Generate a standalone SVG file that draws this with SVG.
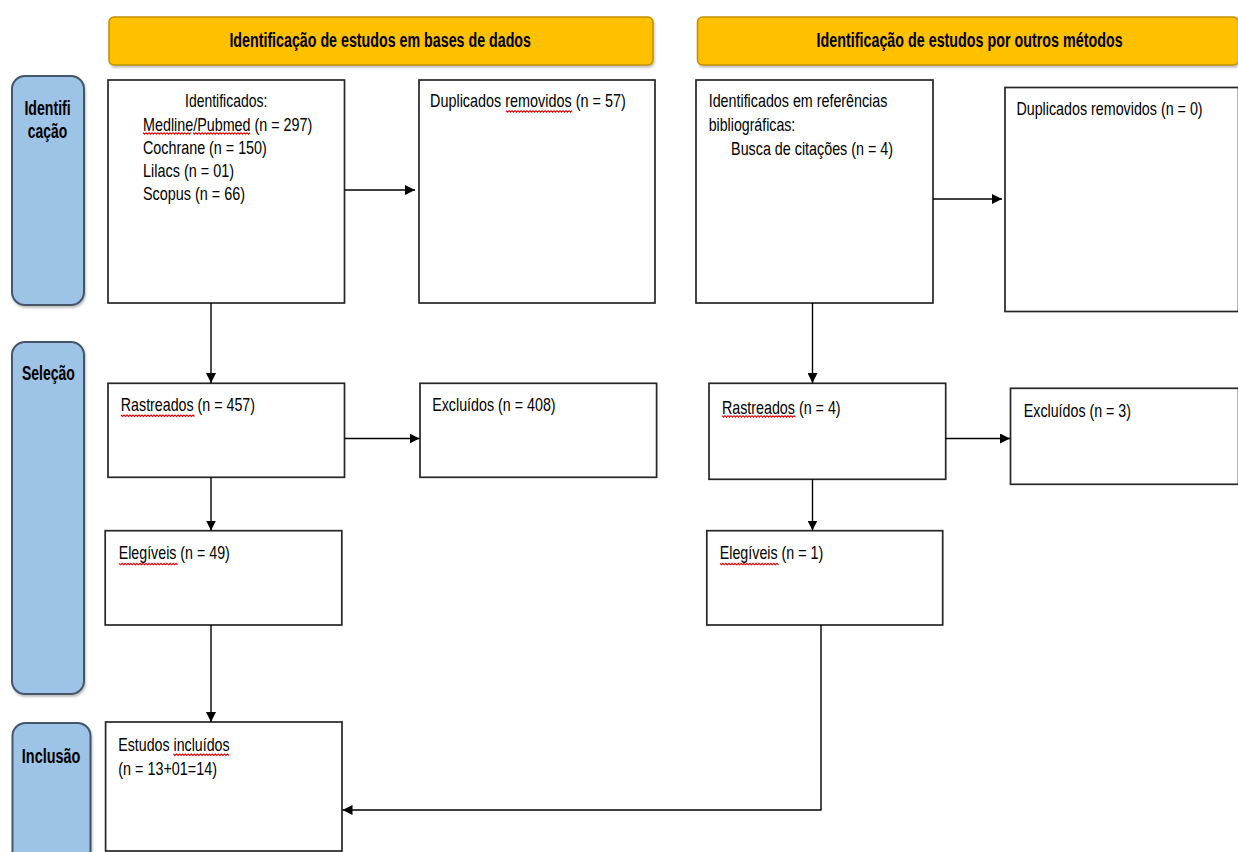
<svg xmlns="http://www.w3.org/2000/svg" width="1238" height="852" viewBox="0 0 1238 852">
<defs>
<style>
.hdr{fill:#FFC000;stroke:#BF9000;stroke-width:1.5}
.bar{fill:#9DC3E6;stroke:#44546A;stroke-width:2}
.box{fill:#FFFFFF;stroke:#262626;stroke-width:1.7}
.t{font-family:"Liberation Sans Narrow","Liberation Sans",Arial,sans-serif;font-size:18.5px;fill:#000}
.hb{font-family:"Liberation Sans Narrow","Liberation Sans",Arial,sans-serif;font-size:20px;font-weight:bold;fill:#000}
.bb{font-family:"Liberation Sans Narrow","Liberation Sans",Arial,sans-serif;font-size:21px;font-weight:bold;fill:#000}
.con{fill:none;stroke:#000;stroke-width:1.4;marker-end:url(#ah)}
.sq{fill:none;stroke:#E00000;stroke-width:1.1}
</style>
<marker id="ah" markerUnits="userSpaceOnUse" markerWidth="11" markerHeight="10" refX="10" refY="5" orient="auto">
<path d="M0,0 L10,5 L0,10 z" fill="#000"/>
</marker>
<filter id="sh" x="-5%" y="-20%" width="110%" height="160%">
<feDropShadow dx="1" dy="2" stdDeviation="1.2" flood-color="#000" flood-opacity="0.25"/>
</filter>
</defs>
<rect width="1238" height="852" fill="#FFFFFF"/>

<g id="header-db">
<rect class="hdr" x="109" y="17" width="544" height="48" rx="5" filter="url(#sh)"/>
<text class="hb" x="229.4" y="47" textLength="301.6" lengthAdjust="spacingAndGlyphs">Identificação de estudos em bases de dados</text>
</g>
<g id="header-other">
<rect class="hdr" x="697.5" y="17" width="541" height="48" rx="5" filter="url(#sh)"/>
<text class="hb" x="816.6" y="47" textLength="306" lengthAdjust="spacingAndGlyphs">Identificação de estudos por outros métodos</text>
</g>

<g id="bar-identificacao">
<rect class="bar" x="12" y="76" width="72" height="229" rx="13" filter="url(#sh)"/>
<text class="bb" x="24.4" y="115" textLength="46.3" lengthAdjust="spacingAndGlyphs">Identifi</text>
<text class="bb" x="27.8" y="137.5" textLength="39.5" lengthAdjust="spacingAndGlyphs">cação</text>
</g>
<g id="bar-selecao">
<rect class="bar" x="12" y="342" width="72" height="352" rx="13" filter="url(#sh)"/>
<text class="bb" x="21.9" y="380" textLength="53" lengthAdjust="spacingAndGlyphs">Seleção</text>
</g>
<g id="bar-inclusao">
<rect class="bar" x="12.5" y="723" width="78" height="150" rx="13" filter="url(#sh)"/>
<text class="bb" x="21.8" y="762.7" textLength="58.6" lengthAdjust="spacingAndGlyphs">Inclusão</text>
</g>

<g id="box-identificados">
<rect class="box" x="108" y="80" width="236.5" height="223"/>
<text class="t" x="185" y="106.7" textLength="82.3" lengthAdjust="spacingAndGlyphs">Identificados:</text>
<text class="t" x="143" y="130.7" textLength="169.3" lengthAdjust="spacingAndGlyphs">Medline/Pubmed (n = 297)</text>
<text class="t" x="143" y="154" textLength="123.8" lengthAdjust="spacingAndGlyphs">Cochrane (n = 150)</text>
<text class="t" x="143" y="176.7" textLength="91" lengthAdjust="spacingAndGlyphs">Lilacs (n = 01)</text>
<text class="t" x="143" y="200" textLength="102" lengthAdjust="spacingAndGlyphs">Scopus (n = 66)</text>
<path class="sq" d="M143,132.7 l1.5,1.5 l1.5,-1.5 l1.5,1.5 l1.5,-1.5 l1.5,1.5 l1.5,-1.5 l1.5,1.5 l1.5,-1.5 l1.5,1.5 l1.5,-1.5 l1.5,1.5 l1.5,-1.5 l1.5,1.5 l1.5,-1.5 l1.5,1.5 l1.5,-1.5 l1.5,1.5 l1.5,-1.5 l1.5,1.5 l1.5,-1.5 l1.5,1.5 l1.5,-1.5 l1.5,1.5 l1.5,-1.5 l1.5,1.5 l1.5,-1.5 l1.5,1.5 l1.5,-1.5 l1.5,1.5 l1.5,-1.5 l1.5,1.5 l1.5,-1.5"/>
<path class="sq" d="M193,132.7 l1.5,1.5 l1.5,-1.5 l1.5,1.5 l1.5,-1.5 l1.5,1.5 l1.5,-1.5 l1.5,1.5 l1.5,-1.5 l1.5,1.5 l1.5,-1.5 l1.5,1.5 l1.5,-1.5 l1.5,1.5 l1.5,-1.5 l1.5,1.5 l1.5,-1.5 l1.5,1.5 l1.5,-1.5 l1.5,1.5 l1.5,-1.5 l1.5,1.5 l1.5,-1.5 l1.5,1.5 l1.5,-1.5 l1.5,1.5 l1.5,-1.5 l1.5,1.5 l1.5,-1.5 l1.5,1.5 l1.5,-1.5 l1.5,1.5 l1.5,-1.5 l1.5,1.5 l1.5,-1.5 l1.5,1.5 l1.5,-1.5 l1.5,1.5 l1.5,-1.5"/>
</g>

<g id="box-duplicados-db">
<rect class="box" x="419" y="80" width="236" height="223"/>
<text class="t" x="430" y="106.7" textLength="195.8" lengthAdjust="spacingAndGlyphs">Duplicados removidos (n = 57)</text>
<path class="sq" d="M506,110.7 l1.5,1.5 l1.5,-1.5 l1.5,1.5 l1.5,-1.5 l1.5,1.5 l1.5,-1.5 l1.5,1.5 l1.5,-1.5 l1.5,1.5 l1.5,-1.5 l1.5,1.5 l1.5,-1.5 l1.5,1.5 l1.5,-1.5 l1.5,1.5 l1.5,-1.5 l1.5,1.5 l1.5,-1.5 l1.5,1.5 l1.5,-1.5 l1.5,1.5 l1.5,-1.5 l1.5,1.5 l1.5,-1.5 l1.5,1.5 l1.5,-1.5 l1.5,1.5 l1.5,-1.5 l1.5,1.5 l1.5,-1.5 l1.5,1.5 l1.5,-1.5 l1.5,1.5 l1.5,-1.5 l1.5,1.5 l1.5,-1.5 l1.5,1.5 l1.5,-1.5 l1.5,1.5 l1.5,-1.5 l1.5,1.5 l1.5,-1.5 l1.5,1.5 l1.5,-1.5"/>
</g>

<g id="box-identificados-ref">
<rect class="box" x="696" y="80" width="237" height="223"/>
<text class="t" x="708.7" y="107" textLength="178.7" lengthAdjust="spacingAndGlyphs">Identificados em referências</text>
<text class="t" x="708.7" y="130.7" textLength="86.6" lengthAdjust="spacingAndGlyphs">bibliográficas:</text>
<text class="t" x="731.1" y="155" textLength="161.9" lengthAdjust="spacingAndGlyphs">Busca de citações (n = 4)</text>
</g>

<g id="box-duplicados-other">
<rect class="box" x="1005" y="87.5" width="233.5" height="224"/>
<text class="t" x="1016.4" y="115" textLength="186.2" lengthAdjust="spacingAndGlyphs">Duplicados removidos (n = 0)</text>
</g>

<g id="box-rastreados-db">
<rect class="box" x="108" y="383.3" width="236.5" height="94"/>
<text class="t" x="120.8" y="410.7" textLength="134.2" lengthAdjust="spacingAndGlyphs">Rastreados (n = 457)</text>
<path class="sq" d="M121,415 l1.5,1.5 l1.5,-1.5 l1.5,1.5 l1.5,-1.5 l1.5,1.5 l1.5,-1.5 l1.5,1.5 l1.5,-1.5 l1.5,1.5 l1.5,-1.5 l1.5,1.5 l1.5,-1.5 l1.5,1.5 l1.5,-1.5 l1.5,1.5 l1.5,-1.5 l1.5,1.5 l1.5,-1.5 l1.5,1.5 l1.5,-1.5 l1.5,1.5 l1.5,-1.5 l1.5,1.5 l1.5,-1.5 l1.5,1.5 l1.5,-1.5 l1.5,1.5 l1.5,-1.5 l1.5,1.5 l1.5,-1.5 l1.5,1.5 l1.5,-1.5 l1.5,1.5 l1.5,-1.5 l1.5,1.5 l1.5,-1.5 l1.5,1.5 l1.5,-1.5 l1.5,1.5 l1.5,-1.5 l1.5,1.5 l1.5,-1.5 l1.5,1.5 l1.5,-1.5 l1.5,1.5 l1.5,-1.5 l1.5,1.5 l1.5,-1.5 l1.5,1.5"/>
</g>

<g id="box-excluidos-db">
<rect class="box" x="420" y="383.3" width="236.6" height="94"/>
<text class="t" x="432.2" y="410.7" textLength="123.4" lengthAdjust="spacingAndGlyphs">Excluídos (n = 408)</text>
</g>

<g id="box-elegiveis-db">
<rect class="box" x="105.2" y="530.7" width="236.6" height="94.3"/>
<text class="t" x="118.7" y="559.3" textLength="111.1" lengthAdjust="spacingAndGlyphs">Elegíveis (n = 49)</text>
<path class="sq" d="M119,563.3 l1.5,1.5 l1.5,-1.5 l1.5,1.5 l1.5,-1.5 l1.5,1.5 l1.5,-1.5 l1.5,1.5 l1.5,-1.5 l1.5,1.5 l1.5,-1.5 l1.5,1.5 l1.5,-1.5 l1.5,1.5 l1.5,-1.5 l1.5,1.5 l1.5,-1.5 l1.5,1.5 l1.5,-1.5 l1.5,1.5 l1.5,-1.5 l1.5,1.5 l1.5,-1.5 l1.5,1.5 l1.5,-1.5 l1.5,1.5 l1.5,-1.5 l1.5,1.5 l1.5,-1.5 l1.5,1.5 l1.5,-1.5 l1.5,1.5 l1.5,-1.5 l1.5,1.5 l1.5,-1.5 l1.5,1.5 l1.5,-1.5 l1.5,1.5 l1.5,-1.5 l1.5,1.5"/>
</g>

<g id="box-rastreados-other">
<rect class="box" x="709" y="383.3" width="236.7" height="96"/>
<text class="t" x="721.9" y="414" textLength="118.7" lengthAdjust="spacingAndGlyphs">Rastreados (n = 4)</text>
<path class="sq" d="M722,415.7 l1.5,1.5 l1.5,-1.5 l1.5,1.5 l1.5,-1.5 l1.5,1.5 l1.5,-1.5 l1.5,1.5 l1.5,-1.5 l1.5,1.5 l1.5,-1.5 l1.5,1.5 l1.5,-1.5 l1.5,1.5 l1.5,-1.5 l1.5,1.5 l1.5,-1.5 l1.5,1.5 l1.5,-1.5 l1.5,1.5 l1.5,-1.5 l1.5,1.5 l1.5,-1.5 l1.5,1.5 l1.5,-1.5 l1.5,1.5 l1.5,-1.5 l1.5,1.5 l1.5,-1.5 l1.5,1.5 l1.5,-1.5 l1.5,1.5 l1.5,-1.5 l1.5,1.5 l1.5,-1.5 l1.5,1.5 l1.5,-1.5 l1.5,1.5 l1.5,-1.5 l1.5,1.5 l1.5,-1.5 l1.5,1.5 l1.5,-1.5 l1.5,1.5 l1.5,-1.5 l1.5,1.5 l1.5,-1.5 l1.5,1.5 l1.5,-1.5 l1.5,1.5"/>
</g>

<g id="box-excluidos-other">
<rect class="box" x="1010.5" y="388.3" width="228" height="96"/>
<text class="t" x="1023.8" y="416.7" textLength="107.2" lengthAdjust="spacingAndGlyphs">Excluídos (n = 3)</text>
</g>

<g id="box-elegiveis-other">
<rect class="box" x="706.8" y="530.7" width="235.9" height="94.3"/>
<text class="t" x="719.7" y="559.3" textLength="103.6" lengthAdjust="spacingAndGlyphs">Elegíveis (n = 1)</text>
<path class="sq" d="M720,563.3 l1.5,1.5 l1.5,-1.5 l1.5,1.5 l1.5,-1.5 l1.5,1.5 l1.5,-1.5 l1.5,1.5 l1.5,-1.5 l1.5,1.5 l1.5,-1.5 l1.5,1.5 l1.5,-1.5 l1.5,1.5 l1.5,-1.5 l1.5,1.5 l1.5,-1.5 l1.5,1.5 l1.5,-1.5 l1.5,1.5 l1.5,-1.5 l1.5,1.5 l1.5,-1.5 l1.5,1.5 l1.5,-1.5 l1.5,1.5 l1.5,-1.5 l1.5,1.5 l1.5,-1.5 l1.5,1.5 l1.5,-1.5 l1.5,1.5 l1.5,-1.5 l1.5,1.5 l1.5,-1.5 l1.5,1.5 l1.5,-1.5 l1.5,1.5 l1.5,-1.5 l1.5,1.5"/>
</g>

<g id="box-incluidos">
<rect class="box" x="105.6" y="722" width="236.4" height="129"/>
<text class="t" x="118.3" y="750.7" textLength="111.3" lengthAdjust="spacingAndGlyphs">Estudos incluídos</text>
<text class="t" x="118.3" y="775" textLength="98.7" lengthAdjust="spacingAndGlyphs">(n = 13+01=14)</text>
<path class="sq" d="M173.4,754 l1.5,1.5 l1.5,-1.5 l1.5,1.5 l1.5,-1.5 l1.5,1.5 l1.5,-1.5 l1.5,1.5 l1.5,-1.5 l1.5,1.5 l1.5,-1.5 l1.5,1.5 l1.5,-1.5 l1.5,1.5 l1.5,-1.5 l1.5,1.5 l1.5,-1.5 l1.5,1.5 l1.5,-1.5 l1.5,1.5 l1.5,-1.5 l1.5,1.5 l1.5,-1.5 l1.5,1.5 l1.5,-1.5 l1.5,1.5 l1.5,-1.5 l1.5,1.5 l1.5,-1.5 l1.5,1.5 l1.5,-1.5 l1.5,1.5 l1.5,-1.5 l1.5,1.5 l1.5,-1.5 l1.5,1.5 l1.5,-1.5 l1.5,1.5"/>
</g>

<g id="connectors">
<path class="con" d="M345,190 H415"/>
<path class="con" d="M933,199 H1002"/>
<path class="con" d="M211,303 V383"/>
<path class="con" d="M345,438.5 H419.5"/>
<path class="con" d="M211,477.3 V530.5"/>
<path class="con" d="M812.5,303 V383"/>
<path class="con" d="M946,438.5 H1010"/>
<path class="con" d="M812.5,479.3 V530.5"/>
<path class="con" d="M211,625 V722"/>
<path class="con" d="M821,625 V810 H342.5"/>
</g>
</svg>
